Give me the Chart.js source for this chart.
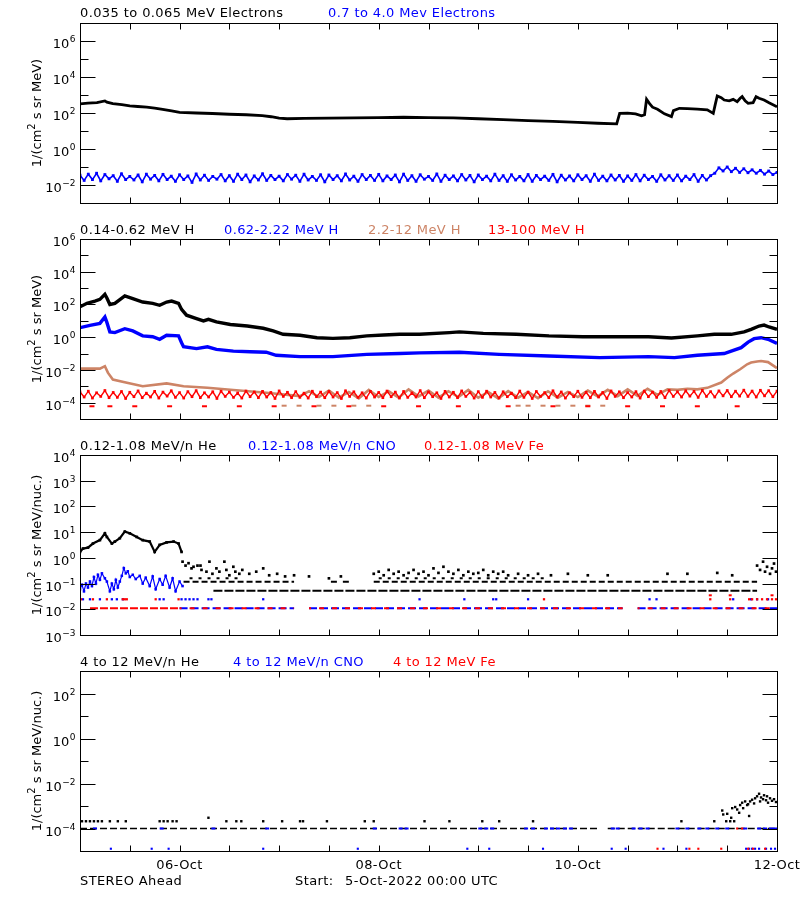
<!DOCTYPE html>
<html><head><meta charset="utf-8"><title>STEREO Ahead</title>
<script src="https://cdn.jsdelivr.net/npm/chart.js@4.4.1/dist/chart.umd.min.js"></script>
<style>
html,body{margin:0;padding:0;background:#fff}
#wrap{position:relative;width:800px;height:900px;overflow:hidden;background:#fff}
canvas{position:absolute;left:0}
</style></head><body>
<div id="wrap">
<canvas id="c1" width="800" height="215" style="top:0px"></canvas>
<canvas id="c2" width="800" height="220" style="top:215px"></canvas>
<canvas id="c3" width="800" height="215" style="top:435px"></canvas>
<canvas id="c4" width="800" height="250" style="top:650px"></canvas>
</div>
<script>
// ================= DATA (time in days since 5-Oct-2022 00:00 UTC) =================
// ---- Panel 1: electrons ----
const e035Day = [0,0.08,0.17,0.25,0.27,0.33,0.42,0.5,0.58,0.67,0.75,0.83,0.92,1.0,1.17,1.33,1.5,1.67,1.83,1.92,2.0,2.08,2.25,2.5,2.75,3.0,3.25,3.5,3.75,4.0,4.25,4.5,4.75,5.0,5.2,5.39,5.42,5.5,5.58,5.64,5.67,5.69,5.72,5.75,5.8,5.87,5.94,5.96,6.02,6.1,6.2,6.3,6.36,6.38,6.40,6.44,6.47,6.52,6.56,6.6,6.63,6.65,6.68,6.71,6.76,6.79,6.82,6.87,6.92,7.0];
const e035Flux = [320,350,380,470,400,330,290,250,230,210,185,160,130,108,100,94,85,80,72,62,52,48,50,52,54,56,58,55,53,48,43,38,34,30,27,25,95,98,90,70,80,575,330,210,160,90,63,135,182,175,166,150,95,300,880,710,525,470,575,430,660,810,470,347,372,810,660,525,372,224];
// hourly samples, 0.7-4.0 MeV electrons
const e07Flux = [
.035,.018,.04,.02,.045,.017,.038,.022,.033,.016,.042,.02,
.03,.019,.036,.015,.04,.021,.034,.017,.039,.02,.031,.016,
.037,.02,.032,.014,.041,.019,.035,.018,.03,.021,.038,.017,
.033,.016,.04,.02,.036,.015,.032,.019,.042,.018,.034,.02,
.031,.017,.038,.021,.035,.016,.04,.019,.03,.018,.037,.015,
.036,.02,.033,.017,.041,.019,.031,.016,.038,.02,.034,.018,
.039,.017,.032,.02,.036,.015,.04,.018,.033,.016,.037,.021,
.03,.018,.041,.016,.035,.02,.032,.017,.038,.019,.034,.015,
.036,.02,.031,.017,.04,.018,.033,.016,.037,.019,.03,.017,
.038,.016,.034,.02,.031,.018,.039,.015,.035,.019,.032,.017,
.037,.02,.033,.016,.04,.018,.031,.017,.036,.019,.034,.016,
.032,.018,.038,.017,.035,.02,.03,.016,.037,.019,.033,.018,
.036,.017,.031,.02,.038,.016,.034,.019,.033,.045,.09,.06,
.1,.055,.085,.05,.08,.048,.07,.045,.065,.04,.06,.038,.05];

// ---- Panel 2: protons ----
const h014Day = [0,0.07,0.15,0.2,0.25,0.27,0.3,0.35,0.45,0.53,0.63,0.73,0.8,0.87,0.92,0.99,1.02,1.07,1.17,1.24,1.29,1.37,1.51,1.68,1.84,1.94,2.04,2.21,2.38,2.54,2.71,2.88,3.05,3.21,3.41,3.71,3.81,4.05,4.38,4.71,5.05,5.38,5.71,5.94,6.2,6.37,6.54,6.67,6.74,6.82,6.87,6.92,7.0];
const h014Flux = [72,117,162,204,417,250,100,117,331,224,141,117,89,141,162,117,50,22,13.5,9.8,12.4,8.5,6.0,4.8,3.5,2.4,1.5,1.3,0.93,0.85,0.93,1.2,1.35,1.5,1.5,1.9,2.1,1.7,1.5,1.2,1.07,1.07,1.07,0.9,1.2,1.5,1.5,2.1,3.0,4.8,5.5,4.2,3.0];
const h062Day = [0,0.1,0.2,0.25,0.27,0.3,0.35,0.45,0.53,0.63,0.73,0.8,0.87,0.99,1.02,1.04,1.17,1.28,1.37,1.54,1.71,1.87,1.97,2.21,2.54,2.88,3.21,3.41,3.81,4.21,4.71,5.22,5.71,5.97,6.2,6.47,6.54,6.64,6.71,6.77,6.84,6.91,7.0];
const h062Flux = [3.8,5.3,7.0,17,8,2.1,1.9,3.3,2.4,1.2,1.07,0.74,1.3,1.2,0.46,0.26,0.2,0.26,0.18,0.14,0.13,0.12,0.078,0.065,0.065,0.089,0.1,0.11,0.12,0.089,0.071,0.056,0.065,0.056,0.078,0.1,0.14,0.23,0.5,0.81,0.93,0.74,0.42];
const h22Day = [0,0.2,0.25,0.28,0.33,0.46,0.63,0.87,1.04,1.28,1.54,1.87,2.21,
2.3,2.4,2.5,2.6,2.7,2.8,2.9,3.0,3.1,3.2,3.3,3.4,3.5,3.6,3.7,3.8,3.9,4.0,4.1,4.2,4.3,4.4,4.5,4.6,4.7,4.8,4.9,5.0,5.1,5.2,5.3,5.4,5.5,5.6,5.7,5.8,5.9,
6.0,6.1,6.2,6.3,6.44,6.5,6.56,6.63,6.7,6.74,6.8,6.84,6.91,7.0];
const h22Flux = [0.012,0.012,0.017,0.0068,0.0026,0.0017,0.001,0.0015,0.001,0.00081,0.00059,0.0004,0.00025,
5e-4,2.2e-4,5.5e-4,2e-4,4.5e-4,1.8e-4,6e-4,2.2e-4,5e-4,2e-4,6.5e-4,2.4e-4,5.5e-4,2e-4,5e-4,2.2e-4,6e-4,2e-4,4.5e-4,1.8e-4,5e-4,2e-4,4.5e-4,1.9e-4,5e-4,2e-4,4.5e-4,2.2e-4,5.5e-4,2.4e-4,6e-4,2.5e-4,6.5e-4,2.6e-4,7e-4,3e-4,6.5e-4,
6e-4,7e-4,6.5e-4,8e-4,0.0017,0.0033,0.006,0.011,0.022,0.028,0.033,0.035,0.03,0.013];
const h22LowDay = [2.05,2.2,2.4,2.55,2.75,2.9,4.4,4.5,4.65,4.8,4.95,5.1,5.25];
const h22LowFlux = 6.5e-5;
// hourly samples, 13-100 MeV H
const h13Flux = [
4.5e-4,2.2e-4,5e-4,1.9e-4,4e-4,2.4e-4,5.5e-4,2e-4,4.2e-4,2.1e-4,4.8e-4,1.8e-4,
4.3e-4,2.3e-4,5.2e-4,2e-4,3.8e-4,2.2e-4,4.9e-4,1.9e-4,4.4e-4,2.5e-4,5.3e-4,2.1e-4,
4.1e-4,1.9e-4,4.7e-4,2.3e-4,5.4e-4,2e-4,4e-4,2.2e-4,4.6e-4,1.8e-4,5e-4,2.4e-4,
4.4e-4,2.1e-4,3.9e-4,1.9e-4,5.1e-4,2.3e-4,4.5e-4,2e-4,4.9e-4,2.2e-4,4.2e-4,1.8e-4,
5.2e-4,2.4e-4,4.3e-4,2e-4,4.7e-4,2.1e-4,3.8e-4,1.9e-4,5e-4,2.3e-4,4.4e-4,2e-4,
4.8e-4,2.2e-4,4.1e-4,1.8e-4,5.3e-4,2.4e-4,4.6e-4,2.1e-4,4e-4,1.9e-4,4.9e-4,2.2e-4,
4.2e-4,2e-4,5.1e-4,2.3e-4,4.4e-4,1.9e-4,4.8e-4,2.1e-4,3.9e-4,2.2e-4,5.4e-4,2e-4,
4.5e-4,2.3e-4,4e-4,1.8e-4,4.9e-4,2.2e-4,4.3e-4,2e-4,5.2e-4,2.4e-4,4.1e-4,1.9e-4,
4.7e-4,2.1e-4,5e-4,2.2e-4,4.2e-4,1.9e-4,4.6e-4,2.3e-4,3.8e-4,2e-4,5.1e-4,2.1e-4,
4.4e-4,1.8e-4,4.8e-4,2.4e-4,4.1e-4,2e-4,5.3e-4,2.2e-4,4.5e-4,1.9e-4,4e-4,2.3e-4,
5e-4,2.1e-4,4.3e-4,2e-4,4.9e-4,2.2e-4,4.2e-4,1.8e-4,5.2e-4,2.4e-4,4.6e-4,2e-4,
4.1e-4,2.2e-4,4.7e-4,1.9e-4,5.1e-4,2.3e-4,4.4e-4,2.1e-4,4.8e-4,2e-4,5.5e-4,2.4e-4,
4.6e-4,2.2e-4,5.3e-4,2.5e-4,4.9e-4,2.1e-4,5.6e-4,2.4e-4,4.7e-4,2.2e-4,5.2e-4,2.6e-4,
5.5e-4,2.3e-4,5e-4,2.5e-4,5.8e-4,2.4e-4,5.1e-4,2.2e-4,5.7e-4,2.6e-4,5.4e-4,2.3e-4,
5e-4];
const h13LowDay = [0.12,0.3,0.55,0.9,1.25,1.6,1.95,2.35,2.7,3.05,3.4,3.8,4.3,4.75,5.1,5.5,5.85,6.2,6.6];
const h13LowFlux = 6e-5;

// ---- Panel 3: 0.12-1.08 MeV/n ions ----
const he012Day = [0,0.03,0.08,0.13,0.2,0.25,0.27,0.32,0.35,0.4,0.45,0.5,0.57,0.63,0.7,0.75,0.8,0.87,0.94,0.99,1.02,
1.03,1.06,1.09,1.12,1.14,1.18,1.21,1.22,1.27,1.3,1.33,1.37,1.4,1.45,1.47,1.5,1.54,1.56,1.6,1.63,1.7,1.77,1.84,1.9,1.98,2.06,2.15,2.3,2.5,2.62,
2.95,3.0,3.05,3.1,3.15,3.2,3.25,3.3,3.35,3.4,3.45,3.5,3.55,3.6,3.65,3.7,3.75,3.8,3.85,3.9,3.95,4.0,4.05,4.1,4.15,4.2,4.25,4.3,4.4,4.5,4.6,4.73,4.9,5.1,5.3,5.9,6.1,6.4,6.55,
6.8,6.83,6.86,6.88,6.9,6.93,6.95,6.97,6.99];
const he012Flux = [1.7,2.3,2.5,3.6,4.9,9,6.5,3.6,4.3,5.8,10.5,9,6.5,4.9,4.3,1.7,3.2,4.0,4.3,3.6,1.7,
0.71,0.5,0.62,0.39,0.45,0.5,0.5,0.34,0.29,0.71,0.24,0.39,0.29,0.71,0.34,0.21,0.45,0.29,0.24,0.34,0.24,0.29,0.39,0.21,0.24,0.19,0.21,0.19,0.16,0.19,
0.24,0.29,0.21,0.34,0.24,0.29,0.21,0.26,0.34,0.24,0.29,0.21,0.39,0.26,0.45,0.29,0.24,0.34,0.21,0.29,0.24,0.26,0.34,0.21,0.29,0.24,0.29,0.21,0.24,0.21,0.24,0.21,0.24,0.21,0.21,0.24,0.24,0.26,0.21,
0.5,0.34,0.71,0.29,0.45,0.24,0.39,0.6,0.29];
// quantised low-count levels of the He series and the day ranges where they appear
const he012RowFlux = [0.052, 0.118, 0.16];
const he012RowSpans = [
  [[1.34, 6.8]],
  [[1.04, 2.15], [2.52, 2.58], [2.64, 2.7], [2.95, 6.8]],
  [[1.1, 1.6], [3.0, 4.7]]
];
const cno012Day = [0,0.02,0.04,0.06,0.08,0.1,0.12,0.14,0.16,0.18,0.2,0.22,0.25,0.27,0.3,0.32,0.34,0.36,0.38,0.4,0.42,0.44,0.46,0.48,0.5,0.53,0.56,0.6,0.63,0.66,0.7,0.73,0.76,0.8,0.83,0.86,0.9,0.93,0.96,1.0,1.03];
const cno012Flux = [0.06,0.09,0.05,0.1,0.07,0.12,0.08,0.18,0.1,0.22,0.14,0.25,0.16,0.12,0.05,0.1,0.06,0.14,0.07,0.12,0.2,0.4,0.25,0.3,0.18,0.22,0.15,0.2,0.1,0.17,0.08,0.19,0.06,0.15,0.09,0.2,0.07,0.16,0.05,0.12,0.08];
const cno012DotDay = [0.03,0.1,0.2,0.32,0.37,0.43,0.8,0.84,1.02,1.06,1.1,1.14,1.18,1.29,1.32,1.84,3.41,3.86,4.15,4.18,4.5,5.72,5.79,6.56,6.74,6.8,6.91];
const cno012DotFlux = 0.0245;
const cno012RowFlux = 0.011;
const cno012RowSpans = [[1.0, 2.15], [2.3, 5.45], [5.6, 7.0]];
const fe012DotDay = [0.01,0.13,0.27,0.43,0.45,0.47,0.76,0.99,4.66,6.33,6.53,6.72,6.75,6.8,6.85,6.9,6.95,6.99];
const fe012DotFlux = 0.0245;
const fe012HighDay = [6.33,6.53,6.95];
const fe012HighFlux = 0.035;
const fe012RowFlux = 0.011;
const fe012EarlySpans = [[0.1, 1.0]];
const fe012RowSpans = [[1.0, 2.15], [2.3, 5.45], [5.6, 7.0]];

// ---- Panel 4: 4-12 MeV/n ions ----
const he412Day = [0.02,0.06,0.1,0.14,0.18,0.22,0.3,0.38,0.46,0.8,0.84,0.88,0.93,0.97,1.29,
1.47,1.57,1.62,1.84,2.03,2.21,2.24,2.48,2.86,2.95,3.46,3.71,4.04,4.21,4.55,6.04,6.37,
6.45,6.46,6.49,6.5,6.53,6.54,6.55,6.57,6.58,6.6,6.62,6.63,6.65,6.66,6.68,6.7,6.71,6.72,6.73,6.75,6.77,6.78,6.8,6.82,6.83,6.84,6.86,6.87,6.89,6.9,6.91,6.93,6.95,6.97,6.99];
const he412Flux = [2.1e-4,2.1e-4,2.1e-4,2.1e-4,2.1e-4,2.1e-4,2.1e-4,2.1e-4,2.1e-4,2.1e-4,2.1e-4,2.1e-4,2.1e-4,2.1e-4,3e-4,
2.1e-4,2.1e-4,2.1e-4,2.1e-4,2.1e-4,2.1e-4,2.1e-4,2.1e-4,2.1e-4,2.1e-4,2.1e-4,2.1e-4,2.1e-4,2.1e-4,2.1e-4,2.1e-4,2.1e-4,
6.3e-4,4.2e-4,2.1e-4,4.5e-4,2.1e-4,3e-4,8e-4,2.1e-4,9e-4,7e-4,5e-4,1.1e-3,1.4e-3,8e-4,1.6e-3,1.1e-3,1.2e-3,3.6e-4,1.6e-3,1.9e-3,1.3e-3,2.2e-3,2.7e-3,3.5e-3,1.6e-3,2.4e-3,2e-3,3e-3,1.8e-3,2.7e-3,1.4e-3,2.2e-3,1.7e-3,2e-3,1.5e-3];
const he412RowFlux = 1e-4;
const he412RowSpans = [[0.0, 5.2], [5.3, 7.0]];
const cno412Day = [0.15,0.82,1.34,1.88,2.96,3.22,3.28,4.02,4.08,4.14,4.48,4.55,4.68,4.74,4.8,4.87,4.93,5.35,5.4,5.56,5.63,5.7,6.0,6.1,6.22,6.3,6.4,6.5,6.68,6.82,6.88,6.94,6.98];
const cno412Flux = 1e-4;
const cno412LowDay = [0.31,0.72,0.89,1.84,2.79,3.89,4.11,4.65,5.34,5.48,5.86,6.09,6.69,6.72,6.75,6.78,6.82,6.89,6.94,6.98];
const cno412LowFlux = 1.26e-5;
const fe412Day = [6.6,6.65];
const fe412Flux = 1e-4;
const fe412LowDay = [5.8,6.12,6.21,6.44,6.71,6.76,6.88];
const fe412LowFlux = 1.26e-5;

// ---- axis text ----
const dateTickDay = [1, 3, 5, 7];
const dateTickLabel = ['06-Oct', '08-Oct', '10-Oct', '12-Oct'];
const p1Legend = ['0.035 to 0.065 MeV Electrons', '0.7 to 4.0 Mev Electrons'];
const p2Legend = ['0.14-0.62 MeV H', '0.62-2.22 MeV H', '2.2-12 MeV H', '13-100 MeV H'];
const p3Legend = ['0.12-1.08 MeV/n He', '0.12-1.08 MeV/n CNO', '0.12-1.08 MeV Fe'];
const p4Legend = ['4 to 12 MeV/n He', '4 to 12 MeV/n CNO', '4 to 12 MeV Fe'];

// ================= STYLE / LAYOUT =================
const FONT = '"DejaVu Sans", "Liberation Sans", sans-serif';
const BLACK = '#000000', BLUE = '#0000ff', BROWN = '#cd8466', RED = '#ff0000';

const pairs = (d, f) => d.map((x, i) => ({x, y: f[i]}));
const hourly = f => f.map((y, i) => ({x: i / 24, y}));
const level = (d, v) => d.map(x => ({x, y: v}));
function spans(list, v) {
  const out = [];
  list.forEach((s, i) => {
    if (i) out.push({x: (list[i - 1][1] + s[0]) / 2, y: null});
    out.push({x: s[0], y: v}, {x: s[1], y: v});
  });
  return out;
}
function lineDS(data, color, width, order, extra) {
  return Object.assign({data, showLine: true, borderColor: color, backgroundColor: color,
    borderWidth: width, pointRadius: 0, pointHoverRadius: 0, tension: 0, spanGaps: false, order}, extra || {});
}
function dotDS(data, color, style, radius, order, extra) {
  return Object.assign({data, showLine: false, pointStyle: style, pointRadius: radius, pointHoverRadius: 0,
    pointBackgroundColor: color, pointBorderColor: color, backgroundColor: color, borderColor: color,
    pointBorderWidth: style === 'line' ? 2 : 0, order}, extra || {});
}
const noisy = (color, r) => ({pointStyle: 'rect', pointRadius: r, pointBorderWidth: 0,
  pointBackgroundColor: color, pointBorderColor: color});

function drawPow(ctx, e, xr, yt) {
  const big = '13px ' + FONT, small = '9px ' + FONT;
  const ex = e < 0 ? '\u2212' + (-e) : String(e);
  ctx.font = small; const we = ctx.measureText(ex).width;
  ctx.font = big; const wb = ctx.measureText('10').width;
  ctx.fillText('10', xr - we - wb - 0.5, yt + 6.5);
  ctx.font = small; ctx.fillText(ex, xr - we, yt + 0.5);
}
function drawYTitle(ctx, parts, cx, cy) {
  ctx.save();
  ctx.translate(cx, cy); ctx.rotate(-Math.PI / 2);
  const big = '13px ' + FONT, small = '10px ' + FONT;
  let W = 0;
  parts.forEach(p => { ctx.font = p[1] ? small : big; W += ctx.measureText(p[0]).width; });
  let x = -W / 2;
  parts.forEach(p => {
    ctx.font = p[1] ? small : big;
    ctx.fillText(p[0], x, p[1] ? -6 : 0);
    x += ctx.measureText(p[0]).width;
  });
  ctx.restore();
}

function framePlugin(cfg) {
  return {
    id: 'frame',
    afterDraw(chart) {
      const {ctx, chartArea: a} = chart;
      const xs = chart.scales.x, ys = chart.scales.y;
      ctx.save();
      ctx.strokeStyle = BLACK; ctx.fillStyle = BLACK; ctx.lineWidth = 1;
      const L = Math.round(a.left) + 0.5, R = Math.round(a.right) + 0.5;
      const T = Math.round(a.top) + 0.5, B = Math.round(a.bottom) + 0.5;
      const seg = (x1, y1, x2, y2) => { ctx.beginPath(); ctx.moveTo(x1, y1); ctx.lineTo(x2, y2); ctx.stroke(); };
      ctx.strokeRect(L, T, R - L, B - T);
      for (let h = 12; h < 168; h += 12) {
        const px = Math.round(xs.getPixelForValue(h / 24)) + 0.5;
        seg(px, T, px, T + 6); seg(px, B, px, B - 6);
      }
      ctx.textAlign = 'left'; ctx.textBaseline = 'alphabetic';
      for (let e = cfg.minExp; e <= cfg.maxExp; e++) {
        const py = Math.round(ys.getPixelForValue(Math.pow(10, e))) + 0.5;
        const major = cfg.labelExp.includes(e);
        const len = major ? 15 : 8;
        seg(L, py, L + len, py); seg(R, py, R - len, py);
        if (major) drawPow(ctx, e, 75.5, py);
      }
      drawYTitle(ctx, cfg.title, 41, (a.top + a.bottom) / 2);
      ctx.font = '13px ' + FONT;
      if ('letterSpacing' in ctx) ctx.letterSpacing = '0.4px';
      cfg.legend.forEach((t, i) => { ctx.fillStyle = cfg.legendColor[i]; ctx.fillText(t, cfg.legendX[i], cfg.legendY); });
      ctx.fillStyle = BLACK;
      if (cfg.bottom) {
        ctx.textAlign = 'center';
        dateTickDay.forEach((d, i) => ctx.fillText(dateTickLabel[i], xs.getPixelForValue(d), a.bottom + 18));
        ctx.textAlign = 'left';
        ctx.fillText('STEREO Ahead', 80, a.bottom + 34);
        ctx.fillText('Start:', 295, a.bottom + 34);
        ctx.fillText('5-Oct-2022 00:00 UTC', 345, a.bottom + 34);
      }
      ctx.restore();
    }
  };
}

function makePanel(id, cfg) {
  return new Chart(document.getElementById(id), {
    type: 'scatter',
    data: {datasets: cfg.datasets},
    options: {
      responsive: false, maintainAspectRatio: false, animation: false, events: [],
      layout: {padding: {left: 80, right: 23, top: cfg.padTop, bottom: cfg.padBottom}},
      plugins: {legend: {display: false}, tooltip: {enabled: false}, title: {display: false}},
      scales: {
        x: {type: 'linear', min: 0, max: 7, display: false},
        y: {type: 'logarithmic', min: Math.pow(10, cfg.minExp), max: Math.pow(10, cfg.maxExp), display: false}
      }
    },
    plugins: [framePlugin(cfg)]
  });
}

const titleFlux = [['1/(cm', false], ['2', true], [' s sr MeV)', false]];
const titleNuc = [['1/(cm', false], ['2', true], [' s sr MeV/nuc.)', false]];

makePanel('c1', {
  padTop: 23, padBottom: 12, minExp: -3, maxExp: 7, labelExp: [-2, 0, 2, 4, 6],
  title: titleFlux, legend: p1Legend, legendColor: [BLACK, BLUE], legendX: [80, 328], legendY: 17,
  datasets: [
    lineDS(pairs(e035Day, e035Flux), BLACK, 2.8, 2),
    lineDS(hourly(e07Flux), BLUE, 1.6, 1, noisy(BLUE, 2))
  ]
});

makePanel('c2', {
  padTop: 24, padBottom: 16, minExp: -5, maxExp: 6, labelExp: [-4, -2, 0, 2, 4, 6],
  title: titleFlux, legend: p2Legend, legendColor: [BLACK, BLUE, BROWN, RED], legendX: [80, 224, 368, 488], legendY: 19,
  datasets: [
    lineDS(pairs(h014Day, h014Flux), BLACK, 3.4, 6),
    lineDS(pairs(h062Day, h062Flux), BLUE, 3.4, 5),
    lineDS(pairs(h22Day, h22Flux), BROWN, 2.6, 4),
    dotDS(level(h22LowDay, h22LowFlux), BROWN, 'line', 2.5, 3),
    lineDS(hourly(h13Flux), RED, 1.4, 2, noisy(RED, 1.9)),
    dotDS(level(h13LowDay, h13LowFlux), RED, 'line', 2.5, 1)
  ]
});

makePanel('c3', {
  padTop: 20, padBottom: 15, minExp: -3, maxExp: 4, labelExp: [-3, -2, -1, 0, 1, 2, 3, 4],
  title: titleNuc, legend: p3Legend, legendColor: [BLACK, BLUE, RED], legendX: [80, 248, 424], legendY: 15,
  datasets: [
    lineDS(pairs(he012Day, he012Flux), BLACK, 2.2, 9, {
      pointStyle: 'rect', pointRadius: 1.9, pointBorderWidth: 0, pointBackgroundColor: BLACK,
      segment: {borderColor: c => (c.p0.parsed.x >= 1.02 ? 'rgba(0,0,0,0)' : BLACK)}
    }),
    lineDS(spans(he012RowSpans[0], he012RowFlux[0]), BLACK, 2, 8, {borderDash: [9, 2]}),
    lineDS(spans(he012RowSpans[1], he012RowFlux[1]), BLACK, 2, 8, {borderDash: [6, 3]}),
    lineDS(spans(he012RowSpans[2], he012RowFlux[2]), BLACK, 2, 8, {borderDash: [3, 6]}),
    lineDS(pairs(cno012Day, cno012Flux), BLUE, 1.2, 6, noisy(BLUE, 1.8)),
    dotDS(level(cno012DotDay, cno012DotFlux), BLUE, 'rect', 1.6, 5),
    lineDS(spans(cno012RowSpans, cno012RowFlux), BLUE, 2, 4, {borderDash: [8, 3]}),
    dotDS(level(fe012DotDay, fe012DotFlux), RED, 'rect', 1.6, 3),
    dotDS(level(fe012HighDay, fe012HighFlux), RED, 'line', 1.5, 2),
    lineDS(spans(fe012EarlySpans, fe012RowFlux), RED, 2, 1, {borderDash: [8, 2]}),
    lineDS(spans(fe012RowSpans, fe012RowFlux), RED, 2, 1, {borderDash: [5, 8], borderDashOffset: 3})
  ]
});

makePanel('c4', {
  padTop: 21, padBottom: 49, minExp: -5, maxExp: 3, labelExp: [-4, -2, 0, 2], bottom: true,
  title: titleNuc, legend: p4Legend, legendColor: [BLACK, BLUE, RED], legendX: [80, 233, 393], legendY: 16,
  datasets: [
    dotDS(pairs(he412Day, he412Flux), BLACK, 'rect', 1.7, 7),
    lineDS(spans(he412RowSpans, he412RowFlux), BLACK, 1.5, 6, {borderDash: [7, 3]}),
    dotDS(level(cno412Day, cno412Flux), BLUE, 'line', 2, 5),
    dotDS(level(cno412LowDay, cno412LowFlux), BLUE, 'rect', 1.5, 4),
    dotDS(level(fe412Day, fe412Flux), RED, 'rect', 1.5, 3),
    dotDS(level(fe412LowDay, fe412LowFlux), RED, 'rect', 1.5, 2)
  ]
});
</script>
</body></html>
